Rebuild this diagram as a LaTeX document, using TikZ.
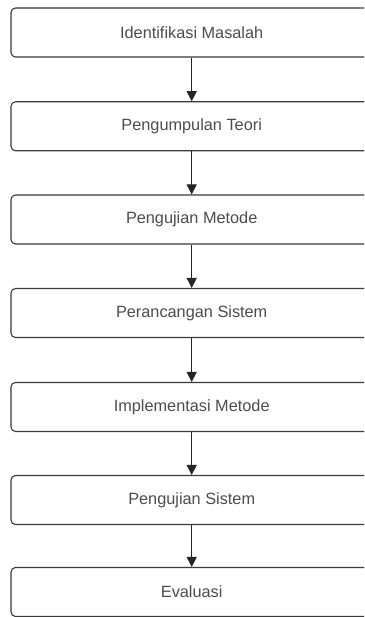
\documentclass[tikz,border=0pt]{standalone}
\usepackage{fontspec}
\setmainfont{Liberation Sans}
\usetikzlibrary{arrows.meta}
\definecolor{boxline}{HTML}{3A3A3A}
\definecolor{boxtext}{HTML}{4D4D4D}
\tikzset{
  stepbox/.style={draw=boxline, line width=1.1pt, rounded corners=4.5pt, fill=white,
    minimum width=361.4pt, minimum height=49pt, inner sep=0pt,
    text=boxtext, font=\fontsize{16.3}{18}\selectfont},
  flow/.style={draw=black!85, line width=1.1pt, -{Triangle[width=10pt,length=10pt]}}
}
\begin{document}
\begin{tikzpicture}[x=1pt,y=-1pt]
\useasboundingbox (0,0) rectangle (364,617);
\clip (0,0) rectangle (364,617);
\fill[white] (0,0) rectangle (364,617);
\node[stepbox] (b1) at (191.7,32.5) {Identifikasi Masalah};
\node[stepbox] (b2) at (191.7,126.3) {Pengumpulan Teori};
\node[stepbox] (b3) at (191.7,219.5) {Pengujian Metode};
\node[stepbox] (b4) at (191.7,313) {Perancangan Sistem};
\node[stepbox] (b5) at (191.7,407) {Implementasi Metode};
\node[stepbox] (b6) at (191.7,500) {Pengujian Sistem};
\node[stepbox] (b7) at (191.7,592) {Evaluasi};
\draw[flow] (b1) -- (b2);
\draw[flow] (b2) -- (b3);
\draw[flow] (b3) -- (b4);
\draw[flow] (b4) -- (b5);
\draw[flow] (b5) -- (b6);
\draw[flow] (b6) -- (b7);
\end{tikzpicture}
\end{document}
